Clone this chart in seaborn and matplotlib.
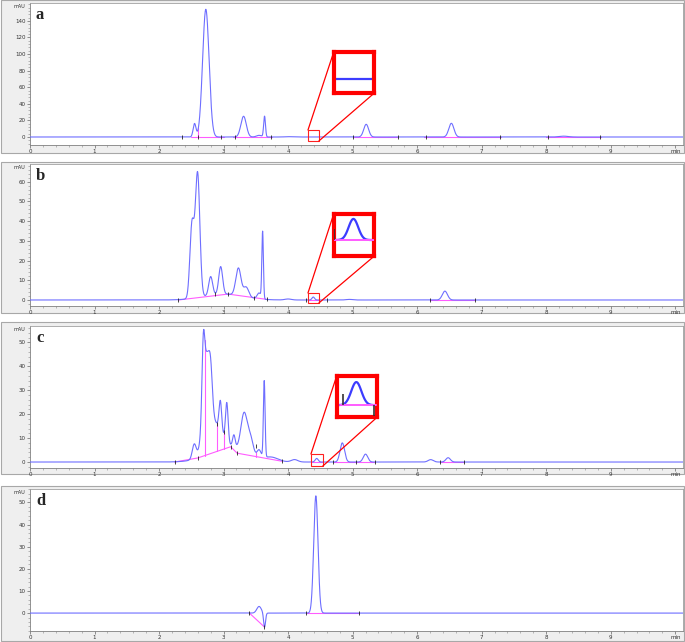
import matplotlib
matplotlib.use("Agg")
import matplotlib.pyplot as plt
from matplotlib.patches import Rectangle
from matplotlib.ticker import AutoMinorLocator
import numpy as np
import seaborn as sns

sns.set_style("white")
plt.rcParams['font.family'] = ['DejaVu Sans']

# peak tables: retention time (min), height (mAU), width (sigma, min)
a_rt = [2.55, 2.725, 3.31, 3.55, 3.635, 4.0, 5.21, 6.53, 8.27]
a_h = [16, 154, 25, 2, 25, 0.4, 15.3, 16.5, 1.0]
a_w = [0.022, 0.05, 0.042, 0.04, 0.014, 0.05, 0.038, 0.04, 0.07]

b_rt = [3.0, 2.51, 2.597, 2.80, 2.955, 3.23, 3.35, 3.55, 3.605, 4.0, 4.39, 4.95, 6.43]
b_h = [3, 37, 63, 9.5, 14, 14, 5, 3, 34, 0.5, 1.5, 0.3, 4.5]
b_w = [0.3, 0.032, 0.035, 0.03, 0.03, 0.04, 0.04, 0.03, 0.012, 0.05, 0.02, 0.05, 0.04]

c_rt = [3.1, 2.545, 2.685, 2.73, 2.80, 2.85, 2.95, 3.05, 3.16, 3.32, 3.42, 3.55, 3.63,
        3.75, 4.1, 4.443, 4.84, 5.2, 6.21, 6.48]
c_h = [6, 6, 24, 34, 16, 12, 12, 16, 5, 16, 6, 3, 32, 1.5, 1, 1.5, 8, 3.3, 1, 1.8]
c_w = [0.3, 0.03, 0.02, 0.05, 0.028, 0.12, 0.02, 0.02, 0.02, 0.05, 0.04, 0.03, 0.013,
       0.1, 0.05, 0.023, 0.035, 0.035, 0.04, 0.035]

d_rt = [3.55, 3.635, 4.43]
d_h = [3, -6.5, 53]
d_w = [0.035, 0.015, 0.033]

# integration baselines (magenta) and event marks (black)
a_base = [[(2.5, 2.62), (0, 0)], [(2.62, 3.0), (0, 0)], [(3.15, 3.75), (0, 0)],
          [(5.0, 5.7), (0, 0)], [(6.1, 7.3), (0, 0)], [(8.0, 8.85), (0, 0)]]
a_drop = [2.61]
a_mark_t = [2.35, 2.61, 2.96, 3.17, 3.73, 5.01, 5.7, 6.13, 7.28, 8.03, 8.84]
a_mark_v = [0] * 11

b_base = [[(2.3, 3.07, 3.67), (0, 3, 0.3)], [(4.31, 4.48), (0, 0)], [(6.2, 6.9), (0, 0)]]
b_drop = []
b_mark_t = [2.3, 2.87, 3.07, 3.47, 3.67, 4.27, 4.61, 6.2, 6.9]
b_mark_v = [0, 3, 3, 1.2, 0.3, 0, 0, 0, 0]

c_base = [[(2.24, 2.6, 3.11, 3.21, 3.91), (0, 1.7, 6.4, 3.7, 0.3)],
          [(4.37, 4.53), (0, 0)], [(4.69, 5.35), (0, 0)], [(6.35, 6.73), (0, 0)]]
c_drop = [2.71, 2.9, 3.0, 3.5]
c_mark_t = [2.24, 2.6, 2.9, 3.0, 3.11, 3.21, 3.5, 3.91, 4.35, 4.69, 5.05, 5.35, 6.35, 6.73]
c_mark_v = [0, 1.7, 16, 12.7, 6.4, 3.7, 6.7, 0.3, 0, 0, 0, 0, 0, 0]

d_base = [[(3.4, 3.63), (0, -6.2)], [(4.27, 5.1), (0, 0)]]
d_drop = []
d_mark_t = [3.4, 3.63, 4.27, 5.1]
d_mark_v = [0, -6.2, 0, 0]

labels = ['a', 'b', 'c', 'd']
y_ticks = [range(0, 141, 20), range(0, 61, 10), range(0, 51, 10), range(0, 51, 10)]

# layout in pixels (figure 685 x 642)
W, H = 685, 642
box_px = [(0, 153), (162, 313), (322, 474), (486, 641)]
ax_px = [(3, 145), (164, 306), (326, 468), (489, 631)]
ylims = [(-9.65, 161.6), (-3.05, 69.0), (-2.5, 56.9), (-8.1, 56.1)]

# zoom windows: small box (t0, t1, v0, v1), big box, inset ylim
zooms = [
    dict(small=(4.308, 4.477, -4.8, 8.4), big=(4.707, 5.336, 53, 102.5), ylim=(-1.0, 2.0)),
    dict(small=(4.308, 4.477, -1.52, 3.55), big=(4.707, 5.336, 22.3, 43.7), ylim=(-1.14, 1.86)),
    dict(small=(4.354, 4.538, -1.67, 3.35), big=(4.753, 5.382, 18.8, 36.0), ylim=(-0.78, 1.9)),
    None,
]

BLUE = '#6e6eff'
MAG = '#ff5cff'

t = np.linspace(0, 10.12, 6000)


def build(rt, h, w):
    y = np.zeros_like(t)
    for r, hh, ww in zip(rt, h, w):
        y += hh * np.exp(-0.5 * ((t - r) / ww) ** 2)
    return y


traces = [build(a_rt, a_h, a_w), build(b_rt, b_h, b_w),
          build(c_rt, c_h, c_w), build(d_rt, d_h, d_w)]
bases = [a_base, b_base, c_base, d_base]
drops = [a_drop, b_drop, c_drop, d_drop]
marks = [(a_mark_t, a_mark_v), (b_mark_t, b_mark_v), (c_mark_t, c_mark_v), (d_mark_t, d_mark_v)]
inset_marks = [None, ([4.31], [0.0]), ([4.383, 4.525], [0.0, 0.0]), None]

fig = plt.figure(figsize=(W / 100, H / 100), dpi=100)

for i in range(4):
    bt, bb = box_px[i]
    fig.add_artist(Rectangle((1 / W, 1 - bb / H), (W - 2) / W, (bb - bt) / H,
                             transform=fig.transFigure, facecolor='#efefef',
                             edgecolor='#a8a8a8', lw=0.8, zorder=-1))
    at, ab = ax_px[i]
    ax = fig.add_axes([30 / W, 1 - ab / H, (683 - 30) / W, (ab - at) / H])
    ax.set_facecolor('white')
    y = traces[i]

    # magenta baselines
    for seg in bases[i]:
        ax.plot(seg[0], seg[1], color=MAG, lw=0.8, zorder=2)
    for dt in drops[i]:
        bv = 0.0
        for seg in bases[i]:
            if seg[0][0] <= dt <= seg[0][-1]:
                bv = np.interp(dt, seg[0], seg[1])
        ax.plot([dt, dt], [bv, np.interp(dt, t, y)], color=MAG, lw=0.8, zorder=2)

    sns.lineplot(x=t, y=y, ax=ax, color=BLUE, linewidth=0.8, estimator=None, sort=False, zorder=3)
    ax.plot(marks[i][0], marks[i][1], '|', color='#222222', ms=3, mew=0.6, zorder=4)

    ax.set_xlim(0, 10.12)
    ax.set_ylim(*ylims[i])
    ax.set_xticks(range(11))
    ax.set_xticklabels([str(k) for k in range(10)] + ['min'])
    ax.set_yticks(list(y_ticks[i]))
    ax.xaxis.set_minor_locator(AutoMinorLocator(5))
    ax.yaxis.set_minor_locator(AutoMinorLocator(5))
    ax.tick_params(which='major', direction='out', length=2.2, width=0.5,
                   colors='#666666', labelcolor='#333333', labelsize=4, pad=1)
    ax.tick_params(which='minor', direction='out', length=1.2, width=0.4, colors='#888888')
    ax.tick_params(axis='x', which='both', bottom=True)
    ax.tick_params(axis='y', which='both', left=True)
    for s in ax.spines.values():
        s.set_color('#a0a0a0')
        s.set_linewidth(0.6)
    ax.spines['left'].set_color('#808080')
    ax.spines['bottom'].set_color('#808080')
    ax.set_xlabel('')
    ax.set_ylabel('')
    ax.text(-0.008, 0.995, 'mAU', transform=ax.transAxes, ha='right', va='top',
            fontsize=3.5, color='#333333')
    ax.text(0.009, 0.975, labels[i], transform=ax.transAxes, ha='left', va='top',
            fontsize=12, fontweight='bold', family='Liberation Serif')

    z = zooms[i]
    if z is not None:
        sx0, sx1, sy0, sy1 = z['small']
        bx0, bx1, by0, by1 = z['big']
        ax.add_patch(Rectangle((sx0, sy0), sx1 - sx0, sy1 - sy0, fill=False,
                               ec='#ff2020', lw=0.8, zorder=5))
        ax.plot([sx0, bx0], [sy1, by1], color='red', lw=0.9, zorder=5)
        ax.plot([sx1, bx1], [sy0, by0], color='red', lw=0.9, zorder=5)
        ins = ax.inset_axes([bx0, by0, bx1 - bx0, by1 - by0], transform=ax.transData)
        ins.set_facecolor('white')
        sel = (t >= sx0) & (t <= sx1)
        sns.lineplot(x=t[sel], y=y[sel], ax=ins, color='#3c3cff', linewidth=1.6,
                     estimator=None, sort=False, zorder=2)
        if i > 0:
            for seg in bases[i]:
                if seg[0][0] < sx1 and seg[0][-1] > sx0:
                    ins.plot(seg[0], seg[1], color=MAG, lw=1.4, zorder=3)
        im = inset_marks[i]
        if im is not None:
            rng = z['ylim'][1] - z['ylim'][0]
            ins.vlines(im[0][0], 0, 0.26 * rng, color='#333333', lw=1.2, zorder=4)
            if len(im[0]) > 1:
                ins.vlines(im[0][1], -0.26 * rng, 0, color='#333333', lw=1.2, zorder=4)
        ins.set_xlim(sx0, sx1)
        ins.set_ylim(*z['ylim'])
        ins.set_xticks([])
        ins.set_yticks([])
        ins.set_xlabel('')
        ins.set_ylabel('')
        for s in ins.spines.values():
            s.set_color('red')
            s.set_linewidth(3)

fig.savefig('out.png', dpi=100)
